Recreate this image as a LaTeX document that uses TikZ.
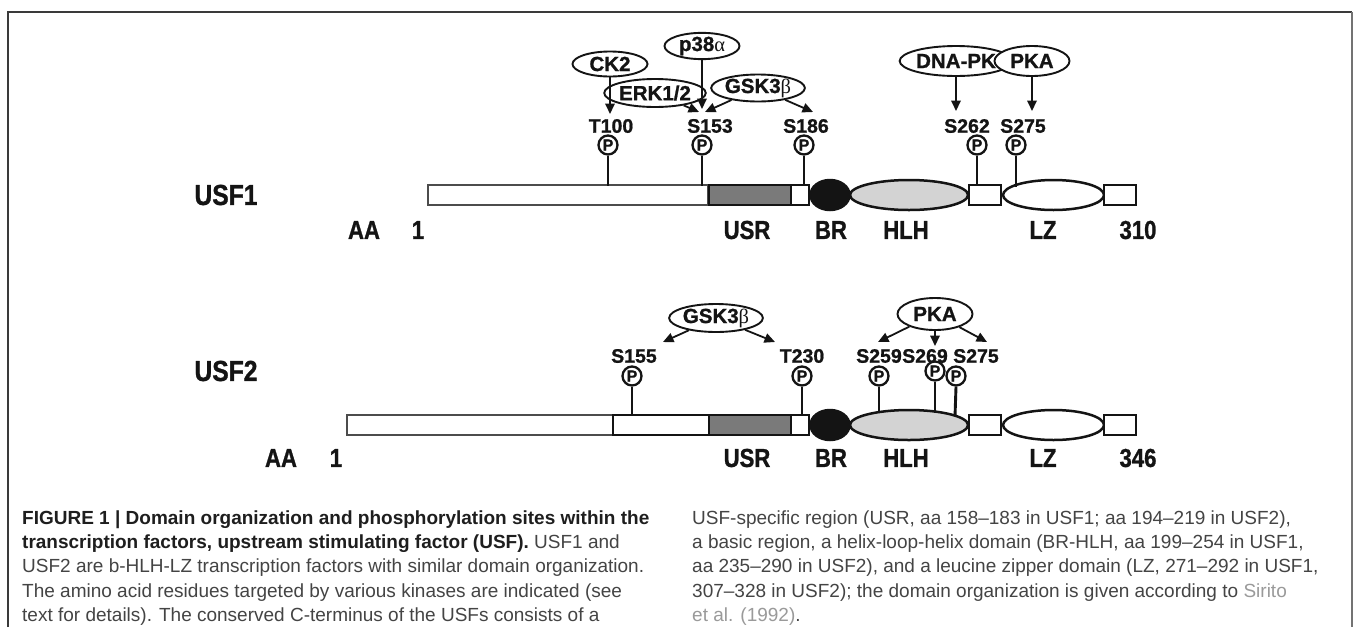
\documentclass[tikz,border=0pt]{standalone}
\usepackage{fontspec}
\setmainfont{Liberation Sans}
\newfontfamily\grk{Liberation Serif}
\newfontfamily\hv[BoldFeatures={FakeBold=1.0}]{Liberation Sans}
\newfontfamily\narrowf[FakeStretch=0.85,BoldFeatures={FakeBold=1.0,FakeStretch=0.85}]{Liberation Sans}
\usetikzlibrary{shapes.geometric,arrows.meta}
\definecolor{usrgray}{HTML}{7A7A7A}
\definecolor{hlhgray}{HTML}{D3D3D3}
\definecolor{framecol}{HTML}{3A3A3A}
\definecolor{captxt}{HTML}{444444}
\definecolor{capbold}{HTML}{1E1E1E}
\definecolor{linkgray}{HTML}{9A9A9A}
\definecolor{ink}{HTML}{141414}
\begin{document}
\begin{tikzpicture}[x=1pt,y=-1pt,
  kin/.style={ellipse, draw=ink, line width=1.9pt, fill=white, inner sep=0pt,
    minimum width=75pt, minimum height=28pt,
    font=\hv\fontsize{20.5}{21}\selectfont\bfseries, text=ink},
  site/.style={inner sep=0pt, font=\hv\fontsize{19.5}{20}\selectfont\bfseries, text=ink},
  phos/.style={circle, draw=ink, line width=2.3pt, minimum size=19pt, inner sep=0pt,
    fill=white, font=\hv\fontsize{16}{16}\selectfont\bfseries, text=ink},
  stem/.style={draw=ink, line width=2.9pt},
  karrow/.style={draw=ink, line width=1.8pt, -{Triangle[length=10.5pt,width=9.5pt]}},
  dlab/.style={inner sep=0pt, font=\narrowf\fontsize{26}{27}\selectfont\bfseries, text=ink},
  protlab/.style={inner sep=0pt, font=\narrowf\fontsize{29}{30}\selectfont\bfseries, text=ink},
  dbar/.style={rectangle, inner sep=0pt, minimum height=20pt},
  thinbar/.style={dbar, draw=black!70, line width=1.2pt, fill=white},
  dombox/.style={dbar, draw=ink, line width=1.7pt, fill=white},
  thickbox/.style={dbar, draw=ink, line width=2.3pt, fill=white},
  usrbox/.style={dbar, draw=ink, line width=1.9pt, fill=usrgray},
  brdom/.style={ellipse, draw=ink, fill=ink, line width=1.5pt, minimum width=40pt, minimum height=31pt, inner sep=0pt},
  hlhdom/.style={ellipse, draw=ink, fill=hlhgray, line width=2.5pt, minimum width=118pt, minimum height=30pt, inner sep=0pt},
  lzdom/.style={ellipse, draw=ink, fill=white, line width=2.5pt, minimum width=101pt, minimum height=30pt, inner sep=0pt},
  capr/.style={inner sep=0pt, anchor=base west, font=\fontsize{19}{24}\selectfont, text=captxt},
]
\useasboundingbox (0,0) rectangle (1354,627);
\fill[white] (0,0) rectangle (1354,627);
\draw[framecol, line width=1.5pt] (8,627) -- (8,12) -- (1352,12);
\draw[black!55, line width=2pt] (1352,12) -- (1352,627);

% ================= USF1 =================
\node[thinbar, minimum width=280pt] (u1a) at (568,195) {};
\node[usrbox, minimum width=82pt] (u1usr) at (750,195) {};
\node[dombox, minimum width=18pt] (u1sw) at (800,195) {};
\node[brdom] (u1br) at (830,195) {};
\node[hlhdom] (u1hlh) at (909,195) {};
\node[dombox, minimum width=32pt] (u1bx) at (985,195) {};
\node[lzdom] (u1lz) at (1053.5,195) {};
\node[dombox, minimum width=32pt] (u1end) at (1120,195) {};

\node[protlab] (lusf1) at (226,195) {USF1};
\node[dlab] (laa1) at (364,230) {AA};
\node[dlab] (lone1) at (418,230) {1};
\node[dlab] (lusr1) at (747,230) {USR};
\node[dlab] (lbr1) at (831,230) {BR};
\node[dlab] (lhlh1) at (906,230) {HLH};
\node[dlab] (llz1) at (1043,230) {LZ};
\node[dlab] (lend1) at (1138,230) {310};

% sites USF1
\coordinate (e1T100) at (608,186);
\coordinate (e1S153) at (702,186);
\coordinate (e1S186) at (804,186);
\coordinate (e1S262) at (977,186);
\coordinate (e1S275) at (1016,186.5);
\node[phos] (pT100) at (608,145) {P};
\node[phos] (pS153) at (702,145) {P};
\node[phos] (pS186) at (804,145) {P};
\node[phos] (pS262) at (977,145) {P};
\node[phos] (pS275) at (1016,145) {P};
\draw[stem] (pT100.south) -- (e1T100);
\draw[stem] (pS153.south) -- (e1S153);
\draw[stem] (pS186.south) -- (e1S186);
\draw[stem] (pS262.south) -- (e1S262);
\draw[stem] (pS275.south) -- (e1S275);
\node[site] (sT100) at (611,126) {T100};
\node[site] (sS153) at (710,126) {S153};
\node[site] (sS186) at (806,126) {S186};
\node[site] (sS262) at (967,126) {S262};
\node[site] (sS275) at (1023,126) {S275};

% kinases USF1
\node[kin, minimum height=25pt] (kCK2) at (610,64) {CK2};
\node[kin, minimum height=25pt] (kp38) at (702,46) {p38{\grk\mdseries α}};
\node[kin, minimum width=76pt] (kERK) at (655,93) {ERK1/2};
\node[kin, minimum width=73pt, minimum height=27pt] (kGSKa) at (758,88) {GSK3{\grk\mdseries β}};
\node[kin, minimum height=30pt] (kDNA) at (956,61) {DNA-PK};
\node[kin, minimum height=30pt] (kPKAa) at (1032,61) {PKA};

\coordinate (aT100) at (610,114);
\coordinate (aS153a) at (702,109);
\coordinate (aS153b) at (699,112);
\coordinate (aS153c) at (705,112);
\coordinate (aS186) at (813,112);
\coordinate (aS262) at (956,111);
\coordinate (aS275) at (1032,111);
\draw[karrow] (kCK2) -- (aT100);
\draw[karrow] (kp38) -- (aS153a);
\draw[karrow] (kERK) -- (aS153b);
\draw[karrow] (kGSKa) -- (aS153c);
\draw[karrow] (kGSKa) -- (aS186);
\draw[karrow] (kDNA) -- (aS262);
\draw[karrow] (kPKAa) -- (aS275);

% ================= USF2 =================
\node[thinbar, minimum width=266pt] (u2a) at (480,425) {};
\node[thickbox, minimum width=96pt] (u2wb) at (661,425) {};
\node[usrbox, minimum width=82pt] (u2usr) at (750,425) {};
\node[dombox, minimum width=18pt] (u2sw) at (800,425) {};
\node[brdom] (u2br) at (830,425) {};
\node[hlhdom] (u2hlh) at (909,425) {};
\node[dombox, minimum width=32pt] (u2bx) at (985,425) {};
\node[lzdom] (u2lz) at (1053.5,425) {};
\node[dombox, minimum width=32pt] (u2end) at (1120,425) {};

\node[protlab] (lusf2) at (226,371) {USF2};
\node[dlab] (laa2) at (281,458) {AA};
\node[dlab] (lone2) at (336,458) {1};
\node[dlab] (lusr2) at (747,458) {USR};
\node[dlab] (lbr2) at (831,458) {BR};
\node[dlab] (lhlh2) at (906,458) {HLH};
\node[dlab] (llz2) at (1043,458) {LZ};
\node[dlab] (lend2) at (1138,458) {346};

\coordinate (e2S155) at (632,416);
\coordinate (e2T230) at (802,416);
\coordinate (e2S259) at (879,413);
\coordinate (e2S269) at (935,412.5);
\coordinate (e2S275) at (955,416.5);
\node[phos] (qS155) at (632,376) {P};
\node[phos] (qT230) at (802,376) {P};
\node[phos] (qS259) at (879,376) {P};
\draw[stem] (qS155.south) -- (e2S155);
\draw[stem] (qT230.south) -- (e2T230);
\draw[stem] (qS259.south) -- (e2S259);
\node[site] (tS155) at (634,356) {S155};
\node[site] (tT230) at (802,356) {T230};
\node[site] (tS259) at (879,356) {S259};
\node[site] (tS269) at (925,356) {S269};
\node[site] (tS275) at (976,356) {S275};
\node[phos] (qS269) at (935,371) {P};
\node[phos] (qS275) at (956,376) {P};
\draw[stem] (qS269.south) -- (e2S269);
\draw[stem] (qS275.south) -- (e2S275);

\node[kin, minimum width=67pt, minimum height=28pt] (kGSKb) at (716,318) {GSK3{\grk\mdseries β}};
\node[kin, minimum width=75pt, minimum height=32pt] (kPKAb) at (935,314) {PKA};
\coordinate (bS155) at (663,342);
\coordinate (bT230) at (775,342);
\coordinate (bS259) at (878,342);
\coordinate (bS269) at (935,346);
\coordinate (bS275) at (987,342);
\draw[karrow] (kGSKb) -- (bS155);
\draw[karrow] (kGSKb) -- (bT230);
\draw[karrow] (kPKAb) -- (bS259);
\draw[karrow] (kPKAb) -- (bS269);
\draw[karrow] (kPKAb) -- (bS275);

% ================= caption =================
\node[capr, text=capbold] (c1) at (22,524.5) {\bfseries FIGURE 1 | Domain organization and phosphorylation sites within the};
\node[capr] (c2) at (22,548.5) {{\bfseries\color{capbold}transcription factors, upstream stimulating factor (USF).} USF1 and};
\node[capr] (c3) at (22,572.5) {USF2 are b-HLH-LZ transcription factors with similar domain organization.};
\node[capr] (c4) at (22,597) {The amino acid residues targeted by various kinases are indicated (see};
\node[capr] (c5) at (22,621) {text for details). The conserved C-terminus of the USFs consists of a};
\node[capr] (d1) at (692,524.5) {USF-specific region (USR, aa 158–183 in USF1; aa 194–219 in USF2),};
\node[capr] (d2) at (692,548.5) {a basic region, a helix-loop-helix domain (BR-HLH, aa 199–254 in USF1,};
\node[capr] (d3) at (692,572.5) {aa 235–290 in USF2), and a leucine zipper domain (LZ, 271–292 in USF1,};
\node[capr] (d4) at (692,597) {307–328 in USF2); the domain organization is given according to {\color{linkgray}Sirito}};
\node[capr] (d5) at (692,621) {{\color{linkgray}et al. (1992)}.};
\end{tikzpicture}
\end{document}
